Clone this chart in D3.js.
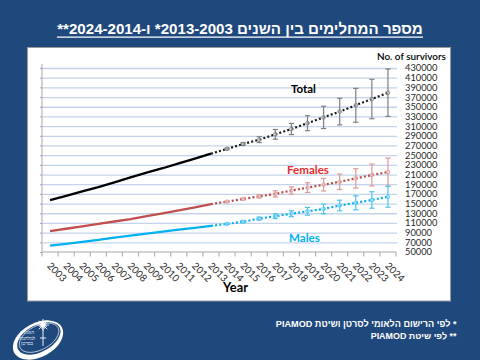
<!DOCTYPE html>
<html><head><meta charset="utf-8">
<script src="https://cdn.jsdelivr.net/npm/d3@7/dist/d3.min.js"></script>
<style>body{margin:0;background:#1f497d;} svg{display:block}</style>
</head><body>
<svg id="c" width="480" height="360"></svg>
<script>
// ---------- data ----------
const years = ["2003","2004","2005","2006","2007","2008","2009","2010","2011","2012","2013",
               "2014","2015","2016","2017","2018","2019","2020","2021","2022","2023","2024"];
const obsYears = ["2003","2004","2005","2006","2007","2008","2009","2010","2011","2012","2013"];
const projYears = ["2013","2014","2015","2016","2017","2018","2019","2020","2021","2022","2023","2024"];

const totalObs  = [157000,166000,175000,184000,194000,204000,214000,223000,233000,243000,253000];
const femaleObs = [93000,98000,103000,108000,113000,118000,124000,130000,136000,142000,149000];
const maleObs   = [63000,67000,71000,75000,79500,84000,88000,92000,96000,100000,104000];

const totalProj  = [253000,263000,273000,282000,293000,304000,316000,328000,340000,353000,366000,379000];
const femaleProj = [149000,154000,159500,165000,170000,177000,183000,189000,195000,202000,209000,215000];
const maleProj   = [104000,108000,112500,119000,124000,129000,134000,139000,146000,151500,157500,164000];

const totalErr  = [0,1500,3000,6000,10000,11500,15500,23000,27500,35000,40700,49000];
const femaleErr = [0,1000,2000,3500,6500,7500,10000,13000,16000,20000,22500,29000];
const maleErr   = [0,1000,2000,3000,5000,6000,8000,10000,11000,14500,17000,21500];

const yTicks = d3.range(50000, 430001, 20000);

const titleText = "מספר המחלימים בין השנים 2013-2003* ו-2024-2014**";
const foot1 = "*  לפי הרישום הלאומי לסרטן ושיטת PIAMOD";
const foot2 = "** לפי שיטת PIAMOD";
const seriesLabels = ["Total","Females","Males"];
const yAxisTitle = "No. of survivors";
const xAxisTitle = "Year";

// ---------- drawing ----------
const svg = d3.select("#c");
svg.append("rect").attr("width",480).attr("height",360).attr("fill","#1f497d");
svg.append("rect").attr("x",27.5).attr("y",47.5).attr("width",423).attr("height",253.5)
   .attr("fill","#fff").attr("stroke","#9a9a9a").attr("stroke-width",1);

const x = d3.scaleBand().domain(years).range([42,396]);
const cx = d => x(d) + x.bandwidth()/2;
const y = d3.scaleLinear().domain([50000,430000]).range([252,68]);

function fitWidth(t, w){
  const l = t.node().getComputedTextLength();
  const fs = parseFloat(t.attr("font-size"));
  t.attr("font-size", fs * w / l);
}

// gridlines
const grid = svg.append("g").attr("transform","translate(42,0)")
  .call(d3.axisRight(y).tickValues(yTicks.slice(1)).tickSize(355).tickFormat(""));
grid.select(".domain").remove();
grid.selectAll("line").attr("stroke","#c3d4ec").attr("stroke-width",1.3);

// left axis with small ticks
const ly = svg.append("g").attr("transform","translate(42,0)")
  .call(d3.axisLeft(y).tickValues(yTicks).tickSize(2).tickSizeOuter(0).tickFormat(""));
ly.select(".domain").attr("stroke","#a6a6a6").attr("d","M0,64V252");
ly.selectAll("line").attr("stroke","#a6a6a6");

// right tick labels
const ry = svg.append("g").attr("transform","translate(403,0)")
  .call(d3.axisRight(y).tickValues(yTicks).tickSize(0).tickPadding(2).tickFormat(d3.format("d")));
ry.select(".domain").remove();
ry.selectAll("text").attr("font-family","Lato").attr("font-size",9.3).attr("fill","#262626");

// x axis
const gx = svg.append("g").attr("transform","translate(0,252)")
  .call(d3.axisBottom(x).tickSize(0).tickSizeOuter(0));
gx.select(".domain").attr("stroke","#a6a6a6").attr("d","M42,0H396");
gx.selectAll("text").attr("font-family","Lato").attr("font-size",9.8).attr("fill","#262626")
  .attr("x",0).attr("y",0).attr("dy",0).attr("text-anchor","start")
  .attr("transform","translate(-3.5,14.5) rotate(45)");
// boundary ticks
svg.append("g").selectAll("line").data(years.concat(["end"])).join("line")
  .attr("x1",d=> d==="end" ? 396 : x(d)).attr("x2",d=> d==="end" ? 396 : x(d))
  .attr("y1",252).attr("y2",256.5).attr("stroke","#a6a6a6");

// lines
const lineObs = d3.line().x((d,i)=>cx(obsYears[i])).y(d=>y(d));
const lineProj = d3.line().x((d,i)=>cx(projYears[i])).y(d=>y(d));

const series = [
  {obs: totalObs, proj: totalProj, err: totalErr, line:"#000", err_c:"#7f7f7f", dot:"#1a1a1a"},
  {obs: femaleObs, proj: femaleProj, err: femaleErr, line:"#c0504d", err_c:"#dc9a98", dot:"#b94a47"},
  {obs: maleObs, proj: maleProj, err: maleErr, line:"#00b0f0", err_c:"#4cc3f0", dot:"#00b0f0"}
];

series.forEach(s=>{
  svg.append("path").attr("d", lineObs(s.obs)).attr("fill","none")
     .attr("stroke", s.line).attr("stroke-width", 2.3);
  svg.append("path").attr("d", lineProj(s.proj)).attr("fill","none")
     .attr("stroke", s.dot).attr("stroke-width", 2.2).attr("stroke-dasharray","2,2.2");
  const eb = svg.append("g");
  projYears.forEach((yr,i)=>{
    if(i===0) return;
    const X = cx(yr), v = s.proj[i], e = s.err[i];
    eb.append("line").attr("x1",X).attr("x2",X).attr("y1",y(v+e)).attr("y2",y(v-e))
      .attr("stroke",s.err_c).attr("stroke-width",1.2);
    [v+e, v-e].forEach(b=>{
      eb.append("line").attr("x1",X-2.6).attr("x2",X+2.6).attr("y1",y(b)).attr("y2",y(b))
        .attr("stroke",s.err_c).attr("stroke-width",1.2);
    });
    eb.append("circle").attr("cx",X).attr("cy",y(v)).attr("r",1.8)
      .attr("fill","#fff").attr("fill-opacity",0.3).attr("stroke",s.err_c).attr("stroke-width",0.9);
  });
});

// series labels
const lab = [
  {t: seriesLabels[0], x:291, y:93, c:"#000", w:25},
  {t: seriesLabels[1], x:287, y:173.5, c:"#ee2b2b", w:42},
  {t: seriesLabels[2], x:289, y:242, c:"#00b0f0", w:31}
];
lab.forEach(l=>{
  const t = svg.append("text").attr("x",l.x).attr("y",l.y).attr("font-family","Lato")
    .attr("font-weight","bold").attr("font-size",11.5).attr("fill",l.c).text(l.t);
  fitWidth(t, l.w);
});

// axis titles
const yt = svg.append("text").attr("x",377).attr("y",60).attr("font-family","Lato")
  .attr("font-size",10).attr("fill","#000").attr("font-weight","600").text(yAxisTitle);
fitWidth(yt, 69);
const xt = svg.append("text").attr("x",223).attr("y",292).attr("font-family","Lato")
  .attr("font-size",12).attr("font-weight","bold").attr("fill","#000").text(xAxisTitle);
fitWidth(xt, 25);

// title
const tt = svg.append("text").attr("x",240).attr("y",34).attr("direction","rtl")
  .attr("text-anchor","middle").attr("font-family","Liberation Sans").attr("font-weight","bold")
  .attr("font-size",15).attr("fill","#fff").text(titleText);
fitWidth(tt, 366);
svg.append("line").attr("x1",57).attr("x2",423).attr("y1",37.2).attr("y2",37.2)
  .attr("stroke","#fff").attr("stroke-width",1.3);

// footnotes
[[foot1,327,181],[foot2,339,86]].forEach(([s,yy,w])=>{
  const t = svg.append("text").attr("x",0).attr("y",yy).attr("direction","rtl")
    .attr("font-family","Liberation Sans").attr("font-weight","bold").attr("font-size",8.5)
    .attr("fill","#fff").text(s);
  fitWidth(t, w);
  const bb = t.node().getBBox();
  t.attr("x", +t.attr("x") + (457 - (bb.x + bb.width)));
});

// logo
const logo = svg.append("g").attr("transform","translate(38,340) rotate(-28)");
logo.append("ellipse").attr("rx",27).attr("ry",17).attr("fill","#fff");
logo.append("ellipse").attr("cx",1.5).attr("cy",-1).attr("rx",23.5).attr("ry",13.5).attr("fill","#1f497d");
logo.append("ellipse").attr("cx",2).attr("cy",-1.5).attr("rx",21.5).attr("ry",12).attr("fill","none")
  .attr("stroke","#fff").attr("stroke-width",0.6);
const sun = svg.append("g").attr("transform","translate(43,325)");
d3.range(16).forEach(i=>{
  const a = i*Math.PI/8;
  sun.append("line").attr("x1",0).attr("y1",0).attr("x2",Math.cos(a)*(i%2?4:6)).attr("y2",Math.sin(a)*(i%2?4:6))
    .attr("stroke","#fff").attr("stroke-width",0.9);
});
sun.append("circle").attr("r",2.5).attr("fill","#fff");
svg.append("line").attr("x1",43).attr("x2",43).attr("y1",327).attr("y2",346).attr("stroke","#fff").attr("stroke-width",0.9);
svg.append("line").attr("x1",40).attr("x2",46).attr("y1",338).attr("y2",338).attr("stroke","#fff").attr("stroke-width",0.9);
[["האגודה",334],["למלחמה",339.5],["בסרטן",345]].forEach(([s,yy])=>{
  svg.append("text").attr("x",27).attr("y",yy).attr("text-anchor","middle").attr("direction","rtl")
    .attr("font-family","Noto Sans").attr("font-size",5).attr("fill","#fff").text(s);
});
</script>
</body></html>
